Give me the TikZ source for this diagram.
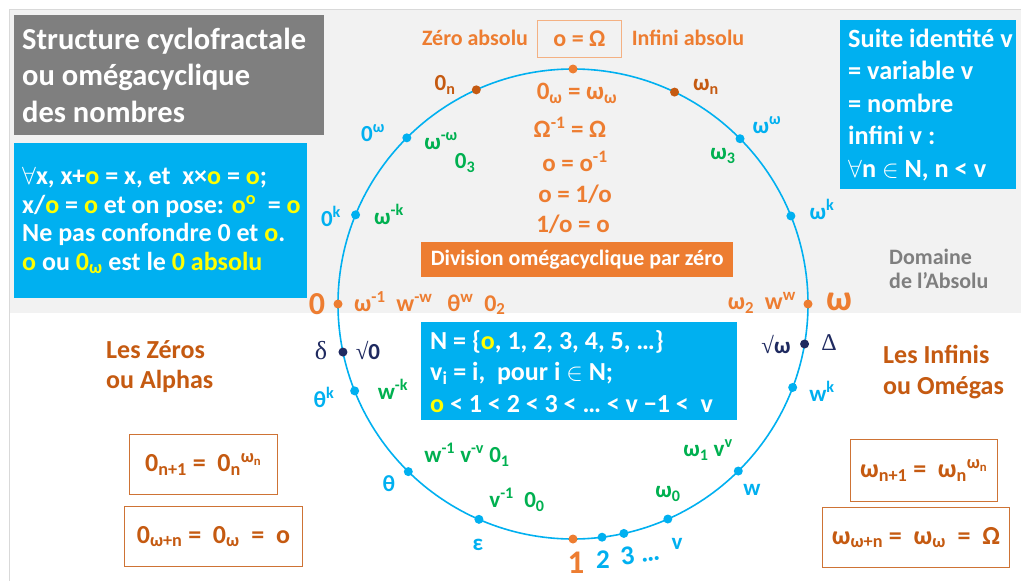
\documentclass[tikz,border=0pt]{standalone}
\usepackage{fontspec}
\setmainfont{Carlito}
\newfontfamily\serifgr{Liberation Serif}
\usetikzlibrary{calc}
\definecolor{cOr}{HTML}{ED7D31}
\definecolor{cBr}{HTML}{C55A11}
\definecolor{cBl}{HTML}{00B0F0}
\definecolor{cGr}{HTML}{00B050}
\definecolor{cNv}{HTML}{1F2A60}
\definecolor{cGy}{HTML}{7F7F7F}
\definecolor{cBg}{HTML}{F2F2F2}
\definecolor{cFr}{HTML}{D9D9D9}
\definecolor{cYe}{HTML}{FFFF00}
\definecolor{cOb}{HTML}{F4B183}
\newcommand\fsz[2]{\fontsize{#1}{#2}\selectfont}
\newcommand\yo[1]{\textcolor{cYe}{#1}}
\newcommand\sps[1]{\textsuperscript{#1}}
\newcommand\sbs[1]{\textsubscript{#1}}
\newcommand\sqr{{\serifgr\mdseries √}}
\tikzset{
  every node/.style={inner sep=0pt, font=\bfseries},
  pt/.style={circle, inner sep=0pt, minimum size=9pt},
  lab/.style={font=\bfseries\fsz{23}{27}},
  bigl/.style={font=\bfseries\fsz{24}{28}},
  eq/.style={text=cOr, font=\bfseries\fsz{25}{29}},
  bluebox/.style={fill=cBl, text=white, anchor=north west, align=flush left},
  fbox/.style={draw=cBr!85, line width=1pt, text=cBr, anchor=north west, font=\bfseries\fsz{26}{30}},
}
\begin{document}
\begin{tikzpicture}[x=1pt,y=-1pt]
\useasboundingbox (0,0) rectangle (1021,581);
\fill[white] (0,0) rectangle (1021,581);
\fill[cBg] (9,9) rectangle (1021,313);
\draw[cFr, line width=1pt] (9,581) -- (9,9) -- (1021,9);

% title box
\node[fill=cGy, text=white, anchor=north west, align=flush left, minimum width=310pt, minimum height=120pt,
      text width=294pt, inner xsep=8pt, font=\bfseries\fsz{30.5}{36.5}] (title) at (14,15)
  {\mbox{Structure cyclofractale}\\\mbox{ou omégacyclique}\\\mbox{des nombres}};
% left blue box
\node[bluebox, minimum width=293pt, minimum height=155pt, text width=277pt, inner xsep=8pt,
      font=\bfseries\fsz{26}{28.5}] (rules) at (14,143)
  {\mbox{$\forall$x, x+\yo{o} = x, et\ \ x×\yo{o} = \yo{o};}\\
   \mbox{x/\yo{o} = \yo{o} et on pose: \yo{o\sps{o}}\ \ = \yo{o}}\\
   \mbox{Ne pas confondre 0 et \yo{o}.}\\
   \mbox{\yo{o} ou \yo{0\sbs{ω}} est le \yo{0 absolu}}};
% right blue box
\node[bluebox, minimum width=176pt, minimum height=169pt, text width=160pt, inner xsep=8pt,
      font=\bfseries\fsz{26.3}{32.5}] (suite) at (840,20)
  {\mbox{Suite identité v}\\\mbox{= variable v}\\\mbox{= nombre}\\\mbox{infini v :}\\\mbox{$\forall$n $\in$ N, n < v}};
% N box
\node[bluebox, minimum width=316pt, minimum height=98pt, text width=298pt, inner xsep=9pt,
      font=\bfseries\fsz{26}{31.5}] (nbox) at (421,322)
  {\mbox{N = \{\yo{o}, 1, 2, 3, 4, 5, …\}}\\
   \mbox{v\sbs{i} = i,\ \ pour i $\in$ N;}\\
   \mbox{\yo{o} < 1 < 2 < 3 < … < v −1 <\ \ v}};
% division box
\node[fill=cOr, text=white, anchor=north west, minimum width=312pt, minimum height=35pt,
      font=\bfseries\fsz{22}{26}] (div) at (421,242) {Division omégacyclique par zéro};
% o = Omega box
\node[draw=cOb, line width=1pt, text=cOr, anchor=north west, minimum width=84pt, minimum height=37pt,
      font=\bfseries\fsz{24}{28}] (oom) at (537,20) {o = Ω};
\node[lab, text=cOr, font=\bfseries\fsz{22}{26}] (zab) at (475,38) {Zéro absolu};
\node[lab, text=cOr, font=\bfseries\fsz{22}{26}] (inab) at (688,38) {Infini absolu};

% formula boxes
\node[fbox, minimum width=148pt, minimum height=60pt] (bx1) at (129,434) {0\sbs{n+1} = \ 0\sbs{n}\sps{ω\sbs{n}}};
\node[fbox, minimum width=178pt, minimum height=60pt] (bx2) at (124,506) {0\sbs{ω+n} = \ 0\sbs{ω}\ \ = \ o};
\node[fbox, minimum width=147pt, minimum height=62pt] (bx3) at (850,439) {ω\sbs{n+1} = \ ω\sbs{n}\sps{ω\sbs{n}}};
\node[fbox, minimum width=187pt, minimum height=60pt] (bx4) at (822,507) {ω\sbs{ω+n} = \ ω\sbs{ω}\ \ = \ Ω};

% side titles
\node[text=cBr, anchor=west, align=left, font=\bfseries\fsz{26}{30}] (zeros) at (106,367) {Les Zéros\\ou Alphas};
\node[text=cBr, anchor=west, align=left, font=\bfseries\fsz{26}{31}] (infinis) at (883,372) {Les Infinis\\ou Omégas};
\node[text=cGy, anchor=west, align=left, font=\bfseries\fsz{22}{23.5}] (dom) at (889,269) {Domaine\\de l’Absolu};

% circle
\coordinate (C) at (573,304);
\draw[cBl, line width=1.6pt] (C) circle[radius=235pt];
\foreach \a/\c/\n in {90/cOr/pT, 114.3/cBr/pZn, 64.4/cBr/pWn, 135/cBl/pZw, 44.7/cBl/pWw,
  157.7/cBl/pZk, 22/cBl/pWk, 180/cOr/pZ, 0/cOr/pW, 191.8/cNv/pSz, -9.8/cNv/pSw,
  201.7/cBl/pTk, -20.8/cBl/pwk, 225.5/cBl/pTh, -45.3/cBl/pw, 246.4/cBl/pEps, -66.2/cBl/pV,
  270/cOr/pOne, 277.1/cBl/pTwo, 282.5/cBl/pThree}
  \node[pt, fill=\c] (\n) at ($(C)+(\a:235pt)$) {};

% center equations
\node[eq] (e1) at (577,93) {0\sbs{ω} = ω\sbs{ω}};
\node[eq] (e2) at (570,127) {Ω\sps{-1} =\ Ω};
\node[eq] (e3) at (575,161) {o =\ o\sps{-1}};
\node[eq] (e4) at (575,194) {o =\ 1/o};
\node[eq] (e5) at (573,224) {1/o =\ o};

% labels upper half
\node[lab, text=cBr] (l0n) at (445,85) {0\sbs{n}};
\node[lab, text=cBr] (lwn) at (706,87) {ω\sbs{n}};
\node[lab, text=cBl] (l0w) at (373,133) {0\sps{ω}};
\node[lab, text=cGr] (lmw) at (441,141) {ω\sps{-ω}};
\node[lab, text=cGr] (l03) at (465,163) {0\sbs{3}};
\node[lab, text=cBl] (l0k) at (331,216) {0\sps{k}};
\node[lab, text=cGr] (lmk) at (389,214) {ω\sps{-k}};
\node[lab, text=cBl] (lww) at (767,125) {ω\sps{ω}};
\node[lab, text=cGr] (lw3) at (723,156) {ω\sbs{3}};
\node[lab, text=cBl] (lwk) at (822,209) {ω\sps{k}};

% horizontal row
\node[text=cOr, font=\bfseries\fsz{32}{36}] (big0) at (317,304) {0};
\node[bigl, text=cOr, anchor=west] (row1) at (354,303) {ω\sps{-1}\ \ w\sps{-w}\ \ \,θ\sps{w}\ \ 0\sbs{2}};
\node[bigl, text=cOr, anchor=east] (row2) at (796,303) {ω\sbs{2}\ \ w\sps{w}};
\node[text=cOr, font=\bfseries\fsz{36}{40}] (bigw) at (839,302) {ω};

% lower half labels
\node[text=cNv, font=\serifgr\fsz{26}{30}] (del) at (321,351) {δ};
\node[lab, text=cNv] (sq0) at (368,350) {\sqr{}0};
\node[lab, text=cBl] (thk) at (324,397) {θ\sps{k}};
\node[lab, text=cGr] (wmk) at (393,389) {w\sps{-k}};
\node[lab, text=cNv] (sqw) at (776,344) {\sqr{}ω};
\node[text=cNv, font=\serifgr\fsz{24}{28}] (Del) at (829,343) {Δ};
\node[lab, text=cBl] (wk) at (822,391) {w\sps{k}};
\node[lab, text=cGr] (lw1) at (467,455) {w\sps{-1}\ v\sps{-v}\ 0\sbs{1}};
\node[lab, text=cBl] (th) at (389,484) {θ};
\node[lab, text=cGr] (lv1) at (517,500) {v\sps{-1}\ \ 0\sbs{0}};
\node[lab, text=cBl] (eps) at (478,545) {ε};
\node[text=cOr, font=\bfseries\fsz{33}{37}, anchor=base, text depth=0pt] (one) at (576,573) {1};
\node[text=cBl, font=\bfseries\fsz{27}{32}] (two) at (603,560) {2};
\node[text=cBl, font=\bfseries\fsz{27}{32}, rotate=8] (three) at (640,554) {3 …};
\node[lab, text=cBl] (lv) at (677,544) {v};
\node[lab, text=cGr] (w0) at (668,494) {ω\sbs{0}};
\node[lab, text=cGr] (w1) at (708,450) {ω\sbs{1}\ v\sps{v}};
\node[lab, text=cBl] (lw) at (752,490) {w};
\end{tikzpicture}
\end{document}
